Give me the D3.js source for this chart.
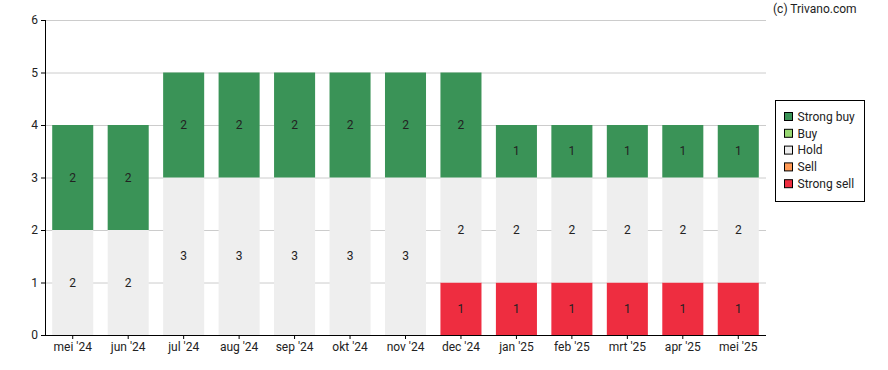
<!DOCTYPE html>
<html lang="nl">
<head>
<meta charset="utf-8">
<title>Adviezen</title>
<script src="https://cdn.jsdelivr.net/npm/d3@7"></script>
<style>
  body { margin: 0; background: #fff; }
  svg { font-family: Roboto, "Liberation Sans", Arial, sans-serif; display: block; }
</style>
</head>
<body>
<svg width="888" height="370"></svg>
<script>
  // data
  var months = ["mei '24", "jun '24", "jul '24", "aug '24", "sep '24", "okt '24", "nov '24",
                "dec '24", "jan '25", "feb '25", "mrt '25", "apr '25", "mei '25"];
  var strongBuy  = [2, 2, 2, 2, 2, 2, 2, 2, 1, 1, 1, 1, 1];
  var buy        = [0, 0, 0, 0, 0, 0, 0, 0, 0, 0, 0, 0, 0];
  var hold       = [2, 2, 3, 3, 3, 3, 3, 2, 2, 2, 2, 2, 2];
  var sell       = [0, 0, 0, 0, 0, 0, 0, 0, 0, 0, 0, 0, 0];
  var strongSell = [0, 0, 0, 0, 0, 0, 0, 1, 1, 1, 1, 1, 1];
  var yTicks = [0, 1, 2, 3, 4, 5, 6];

  var seriesNames = ["Strong buy", "Buy", "Hold", "Sell", "Strong sell"];
  var colors = {"Strong buy": "#3a9357", "Buy": "#98d872", "Hold": "#eeeeee", "Sell": "#ff9955", "Strong sell": "#ee2d40"};

  var rows = months.map(function(m, i) {
    return {month: m, "Strong sell": strongSell[i], "Sell": sell[i], "Hold": hold[i], "Buy": buy[i], "Strong buy": strongBuy[i]};
  });

  var svg = d3.select("svg");
  var plotL = 45, plotR = 766, plotT = 20, plotB = 335;

  var x = d3.scaleBand().domain(months).range([plotL, plotR]).paddingInner(0.26).paddingOuter(0.13);
  var y = d3.scaleLinear().domain([0, 6]).range([plotB, plotT]);

  // grid
  svg.append("g").selectAll("line")
    .data(yTicks.filter(function(d) { return d > 0; }))
    .enter().append("line")
      .attr("x1", plotL).attr("x2", plotR)
      .attr("y1", function(d) { return y(d) + 0.5; }).attr("y2", function(d) { return y(d) + 0.5; })
      .attr("stroke", "#cccccc").attr("stroke-width", 1);

  var stack = d3.stack().keys(["Strong sell", "Sell", "Hold", "Buy", "Strong buy"]);
  var layers = stack(rows);

  var layer = svg.append("g").selectAll("g")
    .data(layers)
    .enter().append("g")
      .attr("fill", function(d) { return colors[d.key]; });

  layer.selectAll("rect")
    .data(function(d) { return d.filter(function(p) { return p[1] > p[0]; }); })
    .enter().append("rect")
      .attr("x", function(d) { return x(d.data.month); })
      .attr("width", x.bandwidth())
      .attr("y", function(d) { return y(d[1]); })
      .attr("height", function(d) { return y(d[0]) - y(d[1]); });

  layer.selectAll("text")
    .data(function(d) { return d.filter(function(p) { return p[1] > p[0]; }); })
    .enter().append("text")
      .attr("x", function(d) { return x(d.data.month) + x.bandwidth() / 2; })
      .attr("y", function(d) { return (y(d[0]) + y(d[1])) / 2; })
      .attr("dy", "0.35em")
      .attr("text-anchor", "middle")
      .attr("fill", "#222")
      .style("font-size", "12px")
      .text(function(d) { return d[1] - d[0]; });

  // axes
  var yAxis = svg.append("g")
    .attr("transform", "translate(" + plotL + ",0)")
    .call(d3.axisLeft(y).tickValues(yTicks).tickSize(4).tickPadding(3).tickFormat(d3.format("d")));
  yAxis.select("path").attr("stroke", "#000").attr("d", "M0.5," + plotT + "V" + (plotB + 0.5));

  var xAxis = svg.append("g")
    .attr("transform", "translate(0," + plotB + ")")
    .call(d3.axisBottom(x).tickSize(4).tickPadding(3));
  xAxis.select("path").attr("stroke", "#000").attr("d", "M" + plotL + ",0.5H" + plotR);

  [yAxis, xAxis].forEach(function(a) {
    a.selectAll("line").attr("stroke", "#000");
    a.selectAll("text").attr("fill", "#222").style("font-size", "12px").style("font-family", "Roboto, sans-serif");
  });

  svg.append("text")
    .attr("x", 773).attr("y", 13)
    .attr("fill", "#222").style("font-size", "12px")
    .text("(c) Trivano.com");

  // legend
  var lg = svg.append("g");
  lg.append("rect")
    .attr("x", 775.5).attr("y", 100.5).attr("width", 89).attr("height", 101)
    .attr("fill", "#fff").attr("stroke", "#000");
  var item = lg.selectAll("g")
    .data(seriesNames)
    .enter().append("g")
      .attr("transform", function(d, i) { return "translate(784.5," + (112.5 + i * 16.8) + ")"; });
  item.append("rect")
    .attr("width", 8).attr("height", 8)
    .attr("fill", function(d) { return colors[d]; })
    .attr("stroke", "#000");
  item.append("text")
    .attr("x", 13).attr("y", 4).attr("dy", "0.35em")
    .attr("fill", "#222").style("font-size", "12px")
    .text(function(d) { return d; });
</script>
</body>
</html>
